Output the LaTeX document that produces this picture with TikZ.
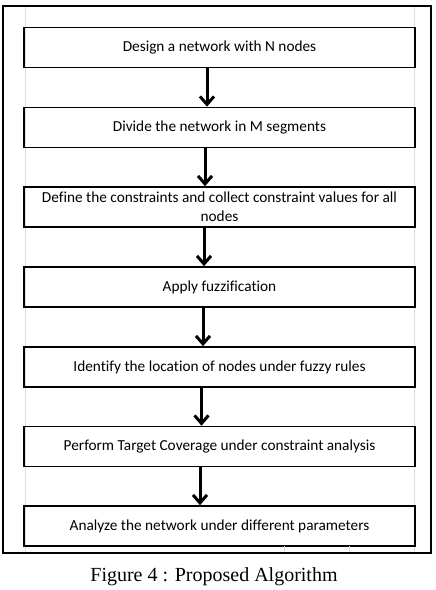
\documentclass[tikz,border=0pt]{standalone}
\usepackage{fontspec}
\setmainfont{Carlito}[Ligatures=NoCommon]
\newfontfamily\capfont{Liberation Serif}
\usetikzlibrary{arrows.meta,positioning}

\begin{document}
\begin{tikzpicture}[
x=1pt,y=-1pt,
stage/.style={
rectangle,
minimum width=391pt,
minimum height=40pt,
line width=1.6pt,
draw=black,
font=\fontsize{15.3}{19}\selectfont,
align=center,
inner sep=1pt
},
flow/.style={
line width=3pt,
-{Straight Barb[length=8pt,width=14pt,line width=3pt]}
},
grid/.style={
draw=black!12,
line width=0.6pt
}]

\useasboundingbox (0,0) rectangle (436,590);

% frame and faint sheet lines
\draw[line width=1.2pt] (3,6) rectangle (431,553);
\draw[grid] (25,7) -- (25,552);
\draw[grid] (414,7) -- (414,552);

\node[stage] (design)  at (219.5,47.5) {Design a network with N nodes};
\node[stage] (divide)  at (219.5,127.5) {Divide the network in M segments};
\node[stage] (define)  at (219.5,207) {Define the constraints and collect constraint values for all\\nodes};
\node[stage] (fuzz)    at (219.5,287) {Apply fuzzification};
\node[stage] (ident)   at (219.5,367) {Identify the location of nodes under fuzzy rules};
\node[stage] (target)  at (219.5,446.5) {Perform Target Coverage under constraint analysis};
\node[stage] (analyze) at (219.5,526) {Analyze the network under different parameters};

\draw[grid] (284,546) -- (284,552);
\draw[grid] (349,546) -- (349,552);

\draw[flow] ([xshift=-12.5pt]design.south) -- ([xshift=-12.5pt]divide.north);
\draw[flow] ([xshift=-14.5pt]divide.south) -- ([xshift=-14.5pt]define.north);
\draw[flow] ([xshift=-15.5pt]define.south) -- ([xshift=-15.5pt]fuzz.north);
\draw[flow] ([xshift=-16.5pt]fuzz.south) -- ([xshift=-16.5pt]ident.north);
\draw[flow] ([xshift=-18pt]ident.south) -- ([xshift=-18pt]target.north);
\draw[flow] ([xshift=-19.5pt]target.south) -- ([xshift=-19.5pt]analyze.north);

\node[font=\capfont\fontsize{20}{24}\selectfont] (caption) at (214,577) {Figure 4 : Proposed Algorithm};

\end{tikzpicture}
\end{document}
